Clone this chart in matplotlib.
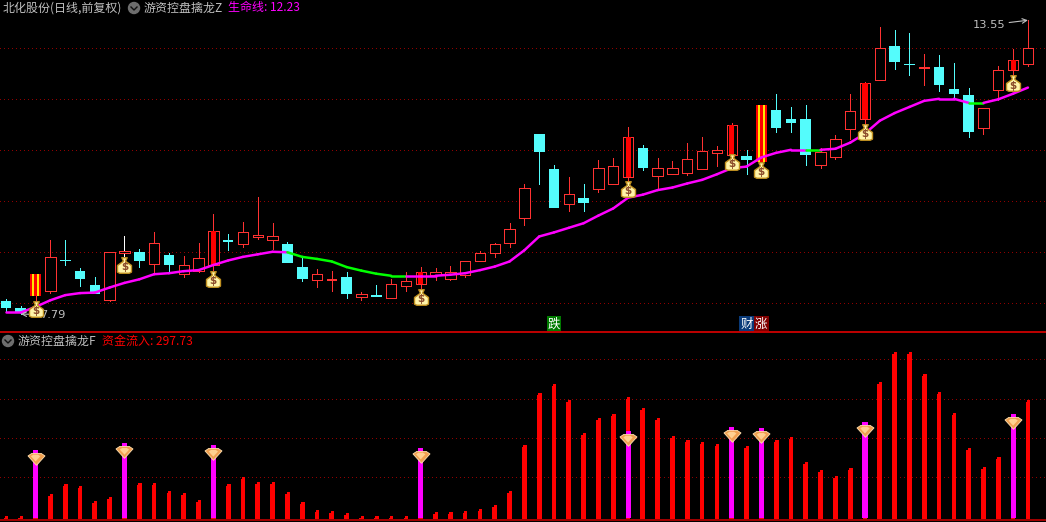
"""
Stock chart: candles with life line on top, capital inflow bars below.
"""

import matplotlib
matplotlib.use('Agg')
import matplotlib.pyplot as plt
from matplotlib.path import Path
import numpy as np

plt.rcParams['font.family'] = ['Noto Sans CJK SC', 'DejaVu Sans']

# candles, one per day
opens = [8.05, 7.91, 8.14, 8.25, 8.85, 8.63, 8.36, 8.07, 8.99, 9.00,
         8.78, 8.95, 8.58, 8.64, 8.76, 9.23, 9.17, 9.29, 9.25, 9.16,
         8.71, 8.46, 8.44, 8.52, 8.13, 8.16, 8.11, 8.33, 8.38, 8.55,
         8.48, 8.56, 8.82, 8.99, 9.19, 9.68, 11.32, 10.63, 9.95, 10.06,
         10.25, 10.33, 10.48, 11.05, 10.50, 10.54, 10.56, 10.64, 10.95, 10.91,
         10.89, 10.78, 11.79, 11.61, 11.61, 10.72, 10.87, 11.41, 11.61, 12.38,
         13.05, 12.69, 12.59, 12.63, 12.20, 12.08, 11.44, 12.19, 12.58, 12.70]
closes = [7.91, 7.81, 8.57, 8.90, 8.82, 8.48, 8.18, 9.00, 9.01, 8.83,
          9.18, 8.75, 8.75, 8.88, 9.41, 9.21, 9.39, 9.33, 9.31, 8.79,
          8.48, 8.57, 8.48, 8.18, 8.18, 8.13, 8.37, 8.43, 8.61, 8.61,
          8.61, 8.82, 8.98, 9.16, 9.45, 10.27, 10.97, 9.87, 10.14, 9.97,
          10.65, 10.69, 11.27, 10.65, 10.65, 10.65, 10.82, 10.98, 11.00, 11.49,
          10.81, 11.89, 11.44, 11.53, 10.91, 10.96, 11.22, 11.78, 12.31, 13.00,
          12.73, 12.67, 12.63, 12.28, 12.10, 11.36, 11.82, 12.57, 12.78, 13.00]
highs = [8.08, 7.95, 8.57, 9.24, 9.24, 8.69, 8.51, 9.00, 9.32, 9.06,
         9.40, 8.99, 8.93, 9.18, 9.75, 9.36, 9.59, 10.08, 9.57, 9.20,
         8.88, 8.67, 8.63, 8.61, 8.22, 8.36, 8.47, 8.61, 8.71, 8.69,
         8.73, 8.82, 9.03, 9.19, 9.57, 10.33, 11.32, 10.71, 10.48, 10.34,
         10.81, 10.85, 11.46, 11.10, 10.85, 10.79, 11.14, 11.26, 11.08, 11.53,
         11.00, 11.89, 12.10, 11.85, 11.89, 11.05, 11.30, 12.10, 12.34, 13.41,
         13.36, 13.30, 12.89, 12.87, 12.71, 12.22, 11.82, 12.65, 12.98, 13.55]
lows = [7.85, 7.79, 8.03, 8.21, 8.75, 8.34, 8.18, 8.05, 8.93, 8.72,
        8.59, 8.60, 8.52, 8.62, 8.65, 9.05, 9.10, 9.27, 9.06, 8.79,
        8.44, 8.32, 8.24, 8.11, 8.07, 8.13, 8.11, 8.24, 8.26, 8.46,
        8.46, 8.52, 8.82, 8.91, 9.10, 9.54, 10.34, 9.87, 9.81, 9.81,
        10.18, 10.33, 10.38, 10.61, 10.26, 10.54, 10.52, 10.64, 10.70, 10.87,
        10.54, 10.67, 11.36, 11.36, 10.71, 10.66, 10.83, 11.22, 11.50, 12.38,
        12.59, 12.48, 12.28, 12.16, 12.05, 11.26, 11.32, 11.99, 12.48, 12.66]

# life line and the days its segment turns green
life_line = [7.82, 7.82, 7.93, 8.06, 8.16, 8.20, 8.21, 8.31, 8.40, 8.47,
             8.57, 8.59, 8.63, 8.65, 8.75, 8.84, 8.91, 8.96, 9.01, 9.00,
             8.91, 8.87, 8.82, 8.71, 8.64, 8.58, 8.54, 8.54, 8.54, 8.54,
             8.56, 8.59, 8.65, 8.72, 8.82, 9.04, 9.31, 9.39, 9.48, 9.57,
             9.72, 9.86, 10.07, 10.13, 10.22, 10.27, 10.35, 10.42, 10.53, 10.65,
             10.68, 10.86, 10.95, 11.01, 11.01, 11.01, 11.03, 11.15, 11.33, 11.58,
             11.73, 11.85, 11.97, 12.01, 12.01, 11.93, 11.93, 12.00, 12.11, 12.23]
green_days = [19, 20, 21, 22, 23, 24, 25, 26, 54, 65]

# special candles
gold_days = [2, 51]
solid_core_days = [14, 28, 42, 49, 58, 68]
solid_days = [22, 62]
white_wick_days = [8]

# money bags under the signal days
bag_days = [2, 8, 14, 28, 42, 49, 51, 58, 68]
bag_prices = [7.88, 8.75, 8.47, 8.13, 10.25, 10.77, 10.61, 11.35, 12.31]

# capital inflow panel
inflow = [2, 2, 170, 57, 83, 78, 40, 50, 187, 85,
          85, 65, 60, 42, 182, 83, 101, 88, 88, 63,
          37, 17, 14, 9, 2, 2, 2, 2, 175, 12,
          12, 14, 19, 30, 65, 182, 315, 337, 297, 213,
          251, 261, 304, 276, 251, 205, 195, 190, 185, 228,
          180, 225, 195, 203, 139, 119, 103, 124, 241, 343,
          419, 419, 363, 317, 264, 175, 126, 152, 261, 297.73]
signal_days = [2, 8, 14, 28, 42, 49, 51, 58, 68]
signal_values = [170, 187, 182, 175, 218, 228, 225, 241, 261]

price_grid = [8, 9, 10, 11, 12, 13]
inflow_grid = [100, 200, 300, 400]

# text tags above the separator: day, char, box colour
tag_days = [37, 50, 51]
tag_chars = ['跌', '财', '涨']
tag_colors = ['#007a00', '#0a3a78', '#800000']

RED = '#ff3232'
CYAN = '#54fcfc'
MAGENTA = '#ff00ff'
GREEN = '#00ff00'
GRID = '#900000'
GRAY = '#c0c0c0'
DOTS = (0, (1, 3))

W, H = 1046, 522
days = np.arange(len(closes))

fig = plt.figure(figsize=(W / 100, H / 100), dpi=100, facecolor='black')
ax = fig.add_axes([0, 1 - 332 / H, 1, 332 / H], facecolor='black')
ax2 = fig.add_axes([0, 0, 1, 190 / H], facecolor='black')

for a in (ax, ax2):
    a.set_xlim(-0.405, 70.22)
    a.set_xticks([])
    a.set_yticks([])
    for spine in a.spines.values():
        spine.set_visible(False)
ax.set_ylim(7.437, 13.947)
ax2.set_ylim(-13.7, 469.7)

for level in price_grid:
    ax.axhline(level, color=GRID, lw=0.72, ls=DOTS, zorder=1, antialiased=False)
for level in inflow_grid:
    ax2.axhline(level, color=GRID, lw=0.72, ls=DOTS, zorder=1, antialiased=False)

# candles
for i in days:
    o, c, h, l = opens[i], closes[i], highs[i], lows[i]
    color = RED if c >= o else CYAN
    top, bottom = max(o, c), min(o, c)
    wick = 'white' if i in white_wick_days else color
    ax.vlines(i, top, h, color=wick, lw=0.72, zorder=2, antialiased=False)
    ax.vlines(i, l, bottom, color=wick, lw=0.72, zorder=2, antialiased=False)
    if i in gold_days:
        ax.bar(i, c - o, bottom=o, width=0.72, color='#ff0000', zorder=3, antialiased=False)
        ax.bar(i, c - o, bottom=o, width=0.47, color='#ffe600', zorder=3, antialiased=False)
        ax.bar(i, c - o, bottom=o, width=0.18, color='#ff0000', zorder=3, antialiased=False)
    elif color == CYAN or i in solid_days:
        ax.bar(i, max(top - bottom, 0.03), bottom=bottom, width=0.72, color=color,
               zorder=3, antialiased=False)
    else:
        ax.bar(i, max(top - bottom, 0.03), bottom=bottom, width=0.7, facecolor='black',
               edgecolor=color, linewidth=0.7, zorder=3, antialiased=False)
        if i in solid_core_days:
            ax.bar(i, top - bottom, bottom=bottom, width=0.34, color='#ff0000',
                   zorder=3, antialiased=False)

# life line, green on the weak stretches
for i in days[:-1]:
    color = GREEN if i in green_days else MAGENTA
    ax.plot(days[i:i + 2], life_line[i:i + 2], color=color, lw=1.8,
            solid_capstyle='round', zorder=4)

# high and low labels
ax.annotate('13.55', xy=(max(days), max(highs)), xytext=(1005, 497), textcoords='figure pixels',
            color=GRAY, fontsize=8.2, ha='right', va='center', family='DejaVu Sans',
            arrowprops=dict(arrowstyle='->', color=GRAY, lw=0.8, shrinkA=1, shrinkB=0), zorder=8)
ax.annotate('7.79', xy=(1, min(lows)), xytext=(40, 207), textcoords='figure pixels',
            color=GRAY, fontsize=8.2, ha='left', va='center', family='DejaVu Sans',
            arrowprops=dict(arrowstyle='->', color=GRAY, lw=0.8, shrinkA=1, shrinkB=0), zorder=5)

# money bag markers
bag_body = Path(
    [(-0.35, 1.0), (0.35, 1.0), (0.15, 0.6), (0.2, 0.5), (0.9, 0.0), (0.9, -0.85),
     (0.6, -1.0), (-0.6, -1.0), (-0.9, -0.85), (-0.9, 0.0), (-0.2, 0.5), (-0.15, 0.6), (-0.35, 1.0)],
    closed=True)
ax.scatter(bag_days, bag_prices, marker=bag_body, s=125, facecolor='#fff4a8',
           edgecolor='#c09020', linewidth=1.0, zorder=6)
for d, p in zip(bag_days, bag_prices):
    ax.text(d, p - 0.04, '$', color='#8a4a2a', fontsize=7.5, fontweight='bold',
            family='DejaVu Sans', ha='center', va='center', zorder=7)

# inflow bars, stepped tops like the original
inflow = np.array(inflow)
floor = -6
ax2.bar(days - 0.05, inflow - 5 - floor, bottom=floor, width=0.22, color='#ff0000',
        zorder=2, antialiased=False)
ax2.bar(days + 0.05, inflow - floor, bottom=floor, width=0.22, color='#ff0000',
        zorder=2, antialiased=False)
ax2.bar(signal_days, np.array(signal_values) + 3, bottom=-3, width=0.34, color=MAGENTA,
        zorder=3, antialiased=False)

# diamonds near the top of signal bars
gem = Path([(-1, 0.3), (-0.55, 0.6), (0.55, 0.6), (1, 0.3), (0, -0.8), (-1, 0.3)], closed=True)
gem_inner = Path([(-1, 0.3), (-0.5, 0.65), (0.5, 0.65), (1, 0.3), (0, -0.8), (-1, 0.3)], closed=True)
gem_values = np.array(signal_values) - 20
ax2.scatter(signal_days, gem_values, marker=gem, s=150, facecolor='#f0a050',
            edgecolor='#ffe0b0', linewidth=0.6, zorder=5)
ax2.scatter(signal_days, gem_values, marker=gem_inner, s=45, facecolor='#ffd090',
            edgecolor='none', zorder=6)

# separators
ax2.axhline(ax2.get_ylim()[1], color='#c00000', lw=1.4, zorder=8, clip_on=False)
ax2.plot([0, 1], [2.2 / 190, 2.2 / 190], transform=ax2.transAxes, color='#c00000', lw=1.2, zorder=8)

# tags sit right above the separator
for d, ch, col in zip(tag_days, tag_chars, tag_colors):
    ax.text(d, 7.437 + 8 / 51, ch, color='white', fontsize=9, ha='center', va='center',
            bbox=dict(facecolor=col, edgecolor='none', pad=0.8), zorder=9)


def header(x, y, text, color):
    fig.text(x / W, 1 - y / H, text, color=color, fontsize=8.64, ha='left', va='center')


def circle_icon(x, y):
    fig.add_artist(plt.Circle((x, H - y), 5.5, transform=None, color='#6e6e6e', zorder=10))
    fig.add_artist(plt.Line2D([x - 3, x, x + 3], [H - y + 1, H - y - 2, H - y + 1], transform=None,
                              color='#101010', lw=1.0, zorder=11))


header(3, 8, '北化股份(日线,前复权)', GRAY)
circle_icon(134, 8)
header(144, 8, '游资控盘擒龙Z', GRAY)
header(228, 8, f'生命线: {life_line[-1]:.2f}', MAGENTA)
circle_icon(8, 341)
header(18, 341, '游资控盘擒龙F', GRAY)
header(102, 341, f'资金流入: {inflow[-1]:.2f}', '#ff0000')

fig.savefig('out.png', dpi=100, facecolor='black')
plt.close(fig)
